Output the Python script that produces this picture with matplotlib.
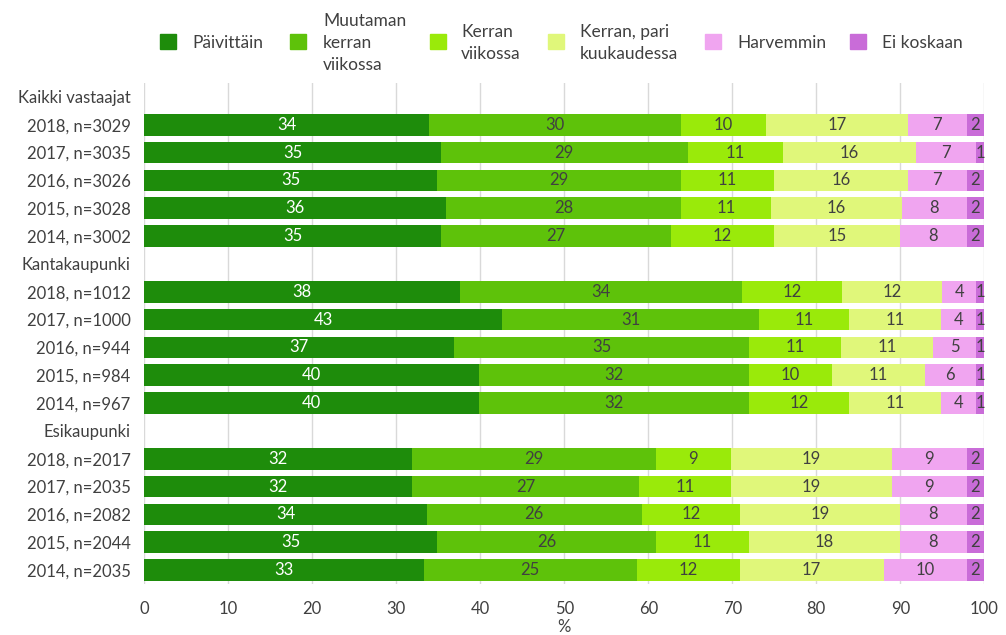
import matplotlib
matplotlib.use("Agg")
import matplotlib.pyplot as plt
from matplotlib.patches import Rectangle
import numpy as np

plt.rcParams['font.family'] = ['Lato', 'DejaVu Sans']

# ---- data ----
series = ["Päivittäin", "Muutaman\nkerran\nviikossa", "Kerran\nviikossa",
          "Kerran, pari\nkuukaudessa", "Harvemmin", "Ei koskaan"]
colors = ["#1e8c0b", "#5ec20a", "#9aea0a", "#e0f77a", "#f0a5f0", "#c96cd8"]

groups = ["Kaikki vastaajat", "Kantakaupunki", "Esikaupunki"]
rows_kaikki = ["2018, n=3029", "2017, n=3035", "2016, n=3026", "2015, n=3028", "2014, n=3002"]
rows_kanta = ["2018, n=1012", "2017, n=1000", "2016, n=944", "2015, n=984", "2014, n=967"]
rows_esi = ["2018, n=2017", "2017, n=2035", "2016, n=2082", "2015, n=2044", "2014, n=2035"]

# values per row: Päivittäin, Muutaman kerran, Kerran viikossa, Kerran pari kk, Harvemmin, Ei koskaan
kaikki = [
    [33.9, 30.0, 10.1, 16.9, 7.0, 2.1],
    [35.3, 29.4, 11.3, 15.9, 7.1, 1.0],
    [34.9, 29.0, 11.1, 15.9, 7.0, 2.1],
    [35.9, 28.0, 10.7, 15.6, 7.7, 2.1],
    [35.3, 27.4, 12.3, 15.0, 7.9, 2.1],
]
kanta = [
    [37.6, 33.6, 11.9, 11.9, 4.0, 1.0],
    [42.6, 30.6, 10.7, 11.0, 4.1, 1.0],
    [36.9, 35.1, 10.9, 11.0, 5.1, 1.0],
    [39.9, 32.1, 9.9, 11.0, 6.1, 1.0],
    [39.9, 32.1, 11.9, 11.0, 4.1, 1.0],
]
esi = [
    [31.9, 29.0, 8.9, 19.2, 8.9, 2.1],
    [31.9, 27.0, 10.9, 19.2, 8.9, 2.1],
    [33.6, 25.6, 11.7, 19.1, 7.9, 2.1],
    [34.9, 26.0, 11.1, 18.0, 7.9, 2.1],
    [33.3, 25.3, 12.3, 17.1, 9.9, 2.1],
]

# ---- assemble rows (header rows have no bars) ----
labels = []
data = []
for g, rows, vals in zip(groups, [rows_kaikki, rows_kanta, rows_esi], [kaikki, kanta, esi]):
    labels.append(g)
    data.append(None)
    for r, v in zip(rows, vals):
        labels.append(r)
        data.append(v)

W, H = 1006, 635
fig = plt.figure(figsize=(W / 100, H / 100), dpi=100)
ax = fig.add_axes([144.3 / W, (H - 584) / H, (984.3 - 144.3) / W, (584 - 83) / H])

ypos = np.arange(len(labels))
txtcol = "#404040"
for i, row in enumerate(data):
    if row is None:
        continue
    left = 0.0
    for j, v in enumerate(row):
        ax.barh(ypos[i], v, left=left, height=0.78, color=colors[j], zorder=2)
        c = "white" if j == 0 else txtcol
        ax.text(left + v / 2, ypos[i], f"{v:.0f}", ha="center", va="center",
                fontsize=12, color=c, zorder=3)
        left += v

ax.set_xlim(0, 100)
ax.set_ylim(len(labels) - 0.5, -0.5)
ax.set_xticks(np.arange(0, 101, 10))
ax.set_yticks(ypos)
ax.set_yticklabels(labels)
ax.tick_params(axis="both", length=0, labelsize=12, labelcolor=txtcol)
ax.tick_params(axis="y", pad=10)
ax.tick_params(axis="x", pad=12)
ax.grid(axis="x", color="#d9d9d9", linewidth=1, zorder=0)
for s in ax.spines.values():
    s.set_visible(False)
ax.set_xlabel("%", fontsize=12, color=txtcol, labelpad=2)

# ---- legend (manual, figure pixel coords) ----
sq_x = [160, 290, 430, 548, 705, 850]
tx_x = [192, 323, 461, 580, 737, 882]
for sx, tx, lab, col in zip(sq_x, tx_x, series, colors):
    fig.patches.append(Rectangle((sx / W, 1 - 49 / H), 16 / W, 15 / H,
                                 transform=fig.transFigure, color=col))
    fig.text(tx / W, 1 - 43 / H, lab, ha="left", va="center", fontsize=12.5,
             color=txtcol, linespacing=1.45)

fig.savefig("out.png", dpi=100)
